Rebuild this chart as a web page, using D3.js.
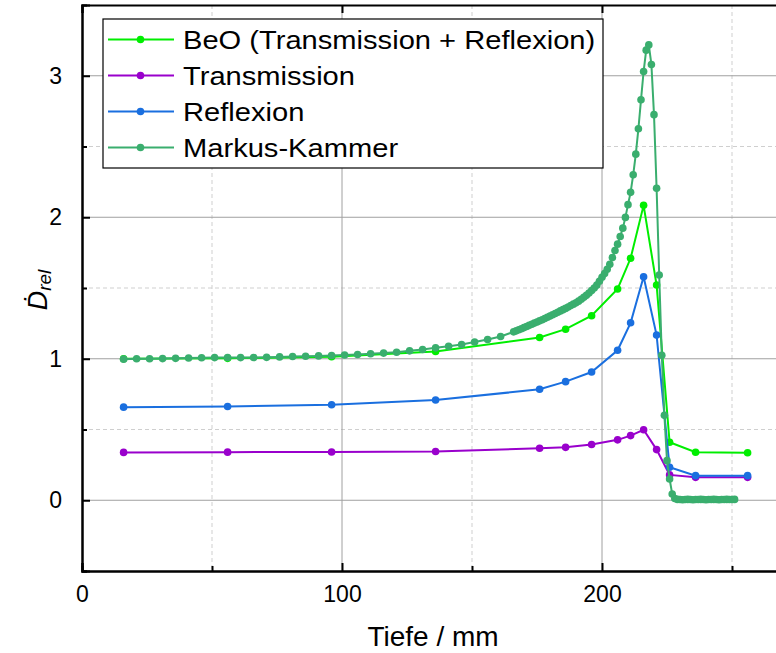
<!DOCTYPE html>
<html>
<head>
<meta charset="utf-8">
<script src="https://cdn.jsdelivr.net/npm/d3@7"></script>
<style>
  body { margin: 0; background: #fff; }
  svg { font-family: "Liberation Sans", Arial, sans-serif; }
</style>
</head>
<body>
<svg id="chart"></svg>
<script>
// measurement depths (mm) shared by the BeO / Transmission / Reflexion series
const depthDet = [16, 56, 96, 136, 176, 186, 196, 206, 211, 216, 221, 226, 236, 256];
const beo = [1.000, 1.003, 1.015, 1.052, 1.150, 1.209, 1.304, 1.493, 1.710, 2.084, 1.521, 0.410, 0.339, 0.336];
const trans = [0.338, 0.340, 0.341, 0.345, 0.367, 0.374, 0.394, 0.427, 0.457, 0.498, 0.358, 0.179, 0.162, 0.162];
const refl = [0.658, 0.663, 0.675, 0.708, 0.784, 0.838, 0.906, 1.060, 1.254, 1.580, 1.167, 0.233, 0.174, 0.174];

// Markus chamber depth curve
const depthMarkus = [
  16, 21, 26, 31, 36, 41, 46, 51, 56, 61, 66, 71, 76, 81, 86, 91, 96, 101, 106, 111,
  116, 121, 126, 131, 136, 141, 146, 151, 156, 161,
  166, 167, 168, 169, 170, 171, 172, 173, 174, 175, 176, 177, 178, 179, 180, 181,
  182, 183, 184, 185, 186, 187, 188, 189, 190, 191, 192, 193, 194, 195, 196, 197,
  198, 199, 200, 201, 202, 203, 204, 205, 206, 207, 208, 209, 210, 211, 212, 213,
  214, 215, 216, 217, 218, 219, 220, 221, 222, 223, 224, 225, 226, 227, 228, 229,
  230, 231, 232, 233, 234, 235, 236, 237, 238, 239, 240, 241, 242, 243, 244, 245,
  246, 247, 248, 249, 250, 251
];
const markus = [
  0.997, 1.000, 1.000, 1.001, 1.003, 1.005, 1.007, 1.008, 1.008, 1.008, 1.009, 1.010,
  1.013, 1.016, 1.018, 1.020, 1.023, 1.027, 1.030, 1.035, 1.040, 1.046, 1.056, 1.065,
  1.077, 1.088, 1.100, 1.118, 1.136, 1.157,
  1.190, 1.197, 1.205, 1.212, 1.220, 1.228, 1.236, 1.244, 1.252, 1.260, 1.268, 1.276,
  1.284, 1.293, 1.302, 1.311, 1.320, 1.329, 1.338, 1.347, 1.356, 1.366, 1.376, 1.386,
  1.396, 1.407, 1.420, 1.434, 1.448, 1.464, 1.482, 1.500, 1.520, 1.548, 1.576, 1.603,
  1.633, 1.667, 1.715, 1.765, 1.810, 1.864, 1.923, 1.999, 2.089, 2.176, 2.300, 2.446,
  2.625, 2.830, 3.030, 3.181, 3.218, 3.080, 2.725, 2.205, 1.592, 1.025, 0.600, 0.280,
  0.150, 0.044, 0.012, 0.006,
  0.005, 0.004, 0.005, 0.006, 0.005, 0.004, 0.005, 0.005, 0.006, 0.005, 0.004, 0.005,
  0.005, 0.006, 0.005, 0.004, 0.005, 0.005, 0.006, 0.005, 0.005, 0.006
];

const xMajor = [0, 100, 200];
const xMinor = [50, 150, 250];
const yMajor = [0, 1, 2, 3];
const yMinor = [-0.5, 0.5, 1.5, 2.5];

const seriesNames = ["BeO (Transmission + Reflexion)", "Transmission", "Reflexion", "Markus-Kammer"];
const seriesColors = ["#00ee00", "#9900cc", "#1a6fdf", "#3aae6e"];

const width = 776;
const height = 653;
const margin = { top: 5, right: -8, bottom: 82, left: 82 };

const svg = d3.select("#chart").attr("width", width).attr("height", height);

const x = d3.scaleLinear().domain([0, 270]).range([margin.left, width - margin.right]);
const y = d3.scaleLinear().domain([-0.5, 3.5]).range([height - margin.bottom, margin.top]);

const plotTop = margin.top;
const plotBottom = height - margin.bottom;
const plotLeft = margin.left;
const plotRight = width - margin.right;

// grid
const grid = svg.append("g");
grid.selectAll(".gxm").data(xMinor).join("line")
  .attr("x1", d => x(d)).attr("x2", d => x(d))
  .attr("y1", plotTop).attr("y2", plotBottom)
  .attr("stroke", "#cfcfcf").attr("stroke-dasharray", "4,3");
grid.selectAll(".gym").data(yMinor.filter(d => d > -0.5)).join("line")
  .attr("x1", plotLeft).attr("x2", plotRight)
  .attr("y1", d => y(d)).attr("y2", d => y(d))
  .attr("stroke", "#cfcfcf").attr("stroke-dasharray", "4,3");
grid.selectAll(".gxM").data(xMajor.filter(d => d > 0)).join("line")
  .attr("x1", d => x(d)).attr("x2", d => x(d))
  .attr("y1", plotTop).attr("y2", plotBottom)
  .attr("stroke", "#a0a0a0");
grid.selectAll(".gyM").data(yMajor).join("line")
  .attr("x1", plotLeft).attr("x2", plotRight)
  .attr("y1", d => y(d)).attr("y2", d => y(d))
  .attr("stroke", "#a0a0a0");

// series
const series = [
  { xs: depthDet, ys: beo },
  { xs: depthDet, ys: trans },
  { xs: depthDet, ys: refl },
  { xs: depthMarkus, ys: markus }
];

const line = d3.line().x(d => x(d[0])).y(d => y(d[1]));

series.forEach((s, i) => {
  const pts = s.xs.map((d, j) => [d, s.ys[j]]);
  const g = svg.append("g");
  g.append("path")
    .datum(pts)
    .attr("fill", "none")
    .attr("stroke", seriesColors[i])
    .attr("stroke-width", 2)
    .attr("d", line);
  g.selectAll("circle").data(pts).join("circle")
    .attr("cx", d => x(d[0]))
    .attr("cy", d => y(d[1]))
    .attr("r", 3.8)
    .attr("fill", seriesColors[i]);
});

// axes
const tickFont = "23px";

svg.append("g")
  .attr("transform", `translate(0,${plotBottom})`)
  .call(d3.axisBottom(x).tickValues(xMajor).tickSize(-8).tickPadding(15).tickFormat(d3.format("d")));
svg.append("g")
  .attr("transform", `translate(0,${plotBottom})`)
  .call(d3.axisBottom(x).tickValues(xMinor).tickSize(-5).tickFormat(""));

svg.append("g")
  .attr("transform", `translate(0,${plotTop})`)
  .call(d3.axisTop(x).tickValues(xMajor).tickSize(-8).tickFormat(""));

svg.append("g")
  .attr("transform", `translate(${plotLeft},0)`)
  .call(d3.axisLeft(y).tickValues(yMajor).tickSize(-8).tickPadding(20).tickFormat(d3.format("d")));
svg.append("g")
  .attr("transform", `translate(${plotLeft},0)`)
  .call(d3.axisLeft(y).tickValues(yMinor).tickSize(-5).tickFormat(""));

svg.selectAll(".domain").attr("stroke", "#000").attr("stroke-width", 2);
svg.selectAll(".tick line").attr("stroke", "#000").attr("stroke-width", 2);
svg.selectAll(".tick text").attr("font-size", tickFont).attr("fill", "#000")
  .attr("font-family", "'Liberation Sans', Arial, sans-serif");

// axis titles
svg.append("text")
  .attr("x", (plotLeft + plotRight) / 2)
  .attr("y", 646)
  .attr("text-anchor", "middle")
  .attr("font-size", "28px")
  .text("Tiefe / mm");

const yTitle = svg.append("text")
  .attr("transform", `translate(47,290) rotate(-90)`)
  .attr("text-anchor", "middle")
  .attr("font-style", "italic");
yTitle.append("tspan").attr("font-size", "27px").text("Ḋ");
yTitle.append("tspan").attr("font-size", "19px").attr("dy", 4).text("rel");

// legend
const legend = svg.append("g");
legend.append("rect")
  .attr("x", 103).attr("y", 19)
  .attr("width", 500).attr("height", 149)
  .attr("fill", "#fff").attr("stroke", "#000").attr("stroke-width", 1.2);

const rowY = [39.5, 75.5, 111.5, 147.5];
seriesNames.forEach((name, i) => {
  const row = legend.append("g").attr("transform", `translate(0,${rowY[i]})`);
  row.append("line")
    .attr("x1", 108).attr("x2", 174)
    .attr("stroke", seriesColors[i]).attr("stroke-width", 2);
  row.append("circle").attr("cx", 140.5).attr("r", 3.8).attr("fill", seriesColors[i]);
  row.append("text")
    .attr("transform", "translate(183,9) scale(1.12,1)")
    .attr("font-size", "26px")
    .attr("fill", "#000")
    .text(name);
});
</script>
</body>
</html>
